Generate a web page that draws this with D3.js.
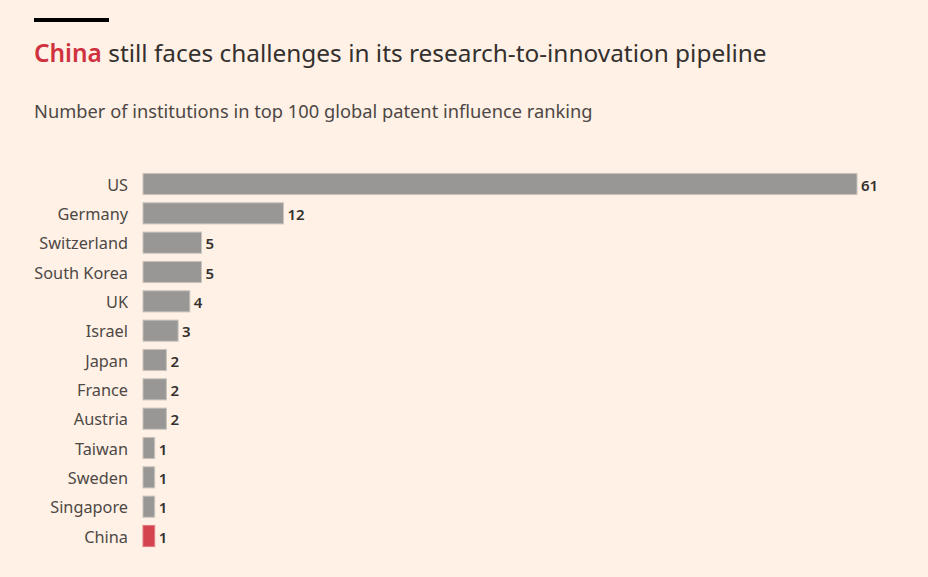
<!DOCTYPE html>
<html><head><meta charset="utf-8">
<script src="https://cdn.jsdelivr.net/npm/d3@7"></script>
<style>
html,body{margin:0;padding:0;background:#fff1e5;}
svg{display:block;}
</style></head>
<body>
<svg id="chart" width="928" height="577"></svg>
<script>
const countries = ["US","Germany","Switzerland","South Korea","UK","Israel","Japan","France","Austria","Taiwan","Sweden","Singapore","China"];
const values = [61,12,5,5,4,3,2,2,2,1,1,1,1];
const highlight = "China";
const titleHighlight = "China";
const titleRest = " still faces challenges in its research-to-innovation pipeline";
const subtitle = "Number of institutions in top 100 global patent influence ranking";

const data = countries.map((c,i)=>({country:c, value:values[i]}));
const svg = d3.select("#chart");
const W = 928, H = 577;
svg.append("rect").attr("width",W).attr("height",H).attr("fill","#fff1e5");

const font = "'Noto Sans', sans-serif";

svg.append("rect").attr("x",34).attr("y",18).attr("width",75).attr("height",4).attr("fill","#000");

const title = svg.append("text").attr("x",34).attr("y",62)
  .attr("font-family",font).attr("font-size",24.4).attr("fill","#33302e");
title.append("tspan").attr("fill","#d0313f").attr("font-weight",600).text(titleHighlight);
title.append("tspan").text(titleRest);

svg.append("text").attr("x",34).attr("y",118)
  .attr("font-family",font).attr("font-size",18.3).attr("fill","#4d4845").text(subtitle);

const x = d3.scaleLinear().domain([0,61]).range([143,857]);
const y = d3.scaleBand().domain(countries).range([169.33,550.67]).paddingInner(0.28).paddingOuter(0.14);

const yAxis = d3.axisLeft(y).tickSize(0).tickPadding(0);
const ga = svg.append("g").attr("transform","translate(128,1.5)").call(yAxis);
ga.select(".domain").remove();
ga.selectAll("text").attr("font-family",font).attr("font-size",16.3).attr("fill","#4d4845");

svg.append("g").selectAll("rect").data(data).join("rect")
  .attr("x",x(0)).attr("y",d=>y(d.country))
  .attr("width",d=>x(d.value)-x(0)).attr("height",y.bandwidth())
  .attr("fill",d=>d.country===highlight?"#d4444f":"#989795")
  .attr("stroke",d=>d.country===highlight?"#e07a80":"#c8c4be").attr("stroke-width",1);

svg.append("g").selectAll("text").data(data).join("text")
  .attr("x",d=>x(d.value)+4).attr("y",d=>y(d.country)+y.bandwidth()/2+1.5)
  .attr("dy","0.35em")
  .attr("font-family",font).attr("font-size",15).attr("font-weight",600)
  .attr("fill","#33302e").text(d=>d.value);
</script>
</body></html>
